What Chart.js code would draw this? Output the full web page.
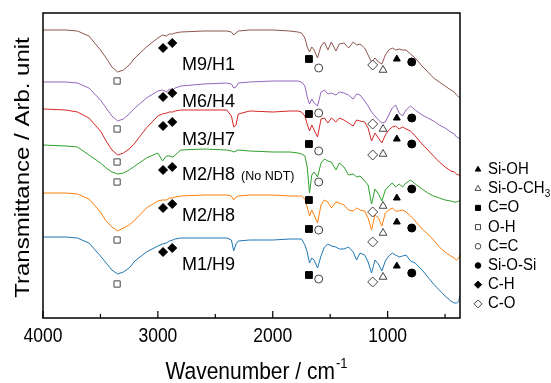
<!DOCTYPE html>
<html>
<head>
<meta charset="utf-8">
<script src="https://cdn.jsdelivr.net/npm/chart.js@4.4.0/dist/chart.umd.min.js"></script>
<style>
  html, body { margin: 0; padding: 0; background: #fff; }
  #wrap { width: 551px; height: 383px; }
</style>
</head>
<body>
<div id="wrap"><canvas id="ftir" width="551" height="383"></canvas></div>
<script>
// wavenumber grid shared by every spectrum (cm-1)
const wavenumbers = [
  4000, 3800, 3700, 3600, 3500, 3450, 3400, 3350, 3300, 3250,
  3200, 3100, 3000, 2960, 2925, 2900, 2870, 2850, 2800, 2600,
  2400, 2360, 2340, 2320, 2300, 2200, 2000, 1850, 1780, 1750,
  1720, 1700, 1680, 1660, 1640, 1610, 1580, 1550, 1520, 1490,
  1450, 1420, 1380, 1340, 1300, 1270, 1240, 1200, 1170, 1140,
  1110, 1080, 1050, 1020, 990, 960, 930, 900, 870, 840,
  800, 760, 700, 650, 600, 550, 500, 450, 420, 400, 380, 370
];

// transmittance, arb. unit (spectra stacked with offsets)
const m9h1 = [
  288, 288, 287, 282, 268, 260, 251, 246, 248, 253,
  260, 271, 280, 283, 282, 284, 284, 285, 286, 287,
  287, 286, 283, 285, 287, 288, 288, 287, 286, 285,
  280, 271, 266, 271, 268, 260, 272, 276, 268, 276,
  267, 274, 275, 270, 276, 273, 274, 270, 263, 256,
  260, 256, 254, 263, 268, 270, 268, 269, 268, 268,
  264, 260, 252, 246, 240, 236, 232, 228, 226, 223, 221, 220
];
const m6h4 = [
  236, 236, 235, 230, 218, 210, 202, 197, 199, 204,
  210, 220, 227, 228, 226, 229, 228, 230, 232, 234,
  235, 234, 230, 231, 235, 236, 237, 237, 237, 236,
  232, 221, 214, 219, 215, 212, 226, 228, 224, 225,
  223, 226, 225, 223, 219, 224, 223, 217, 212, 206,
  202, 198, 195, 196, 203, 210, 213, 205, 202, 208,
  212, 208, 203, 200, 197, 193, 190, 186, 184, 181, 180, 179
];
const m3h7 = [
  209, 208, 206, 200, 187, 177, 168, 163, 165, 169,
  175, 190, 202, 204, 205, 206, 206, 207, 208, 208,
  208, 202, 191, 193, 204, 207, 206, 207, 207, 206,
  202, 194, 187, 193, 188, 181, 199, 200, 195, 200,
  196, 200, 198, 195, 192, 198, 197, 196, 190, 177,
  185, 180, 175, 183, 188, 191, 192, 189, 191, 189,
  187, 182, 174, 168, 162, 156, 151, 147, 146, 144, 143, 142
];
const m2h8NoNdt = [
  173, 172, 171, 163, 155, 150, 146, 144, 145, 148,
  152, 160, 165, 157, 162, 162, 161, 163, 168, 169,
  168, 167, 166, 167, 168, 167, 166, 166, 165, 164,
  162, 151, 125, 143, 146, 141, 155, 159, 157, 156,
  148, 155, 151, 143, 144, 141, 142, 137, 133, 114,
  129, 124, 117, 128, 132, 135, 131, 134, 131, 135,
  138, 134, 129, 125, 122, 120, 118, 117, 116, 116, 117, 118
];
const m2h8 = [
  125, 125, 124, 119, 106, 97, 91, 87, 90, 93,
  98, 110, 117, 118, 118, 120, 120, 121, 122, 123,
  123, 122, 118, 121, 122, 123, 123, 122, 122, 122,
  119, 111, 102, 108, 103, 95, 113, 118, 116, 110,
  116, 115, 113, 108, 107, 110, 108, 107, 100, 88,
  103, 100, 92, 105, 108, 110, 107, 107, 108, 106,
  102, 97, 89, 84, 78, 71, 66, 62, 60, 58, 60, 64
];
const m1h9 = [
  81, 81, 80, 75, 62, 55, 48, 44, 46, 50,
  57, 66, 72, 74, 75, 77, 78, 79, 80, 80,
  80, 78, 67, 74, 77, 78, 78, 79, 79, 79,
  73, 66, 55, 60, 58, 50, 62, 71, 74, 72,
  71, 69, 69, 71, 66, 58, 65, 63, 56, 45,
  58, 54, 47, 57, 62, 65, 63, 61, 62, 63,
  57, 55, 48, 41, 34, 28, 22, 17, 15, 15, 17, 23
];

const sampleNames = ["M9/H1", "M6/H4", "M3/H7", "M2/H8", "M2/H8", "M1/H9"];
const sampleNotes = ["", "", "", "(No NDT)", "", ""];
const sampleLabelWn = 2790;
const sampleLabelLevels = [255, 218, 180, 145, 104, 55];

// band assignments: wavenumber of the mark and its level under each spectrum
const bandNames = ["Si-OH", "Si-O-CH3", "C=O", "O-H", "C=C", "Si-O-Si", "C-H", "C-O"];
const bandWavenumbers = [[920], [1040], [1685], [3355], [1600], [790], [2955, 2875], [1130]];
const siOhLevels = [259, 200, 179, 120, 96, 52];
const siOch3Levels = [248, 189, 164, 112, 85, 41];
const c_oLevels = [259, 204, 174, 118, 89, 43];
const ohLevels = [237, 189, 156, 136, 78, 34];
const ccLevels = [250, 205, 167, 136, 88, 39];
const siOSiLevels = [256, 200, 174, 129, 90, 45];
const chLevelsA = [270, 221, 192, 148, 110, 66];
const chLevelsB = [275, 225, 196, 151, 114, 70];
const coEtherLevels = [253, 194, 163, 106, 76, 36];
const bandLevels = [
  [siOhLevels], [siOch3Levels], [c_oLevels], [ohLevels],
  [ccLevels], [siOSiLevels], [chLevelsA, chLevelsB], [coEtherLevels]
];

const majorTicks = [4000, 3000, 2000, 1000];
const minorTicks = [3500, 2500, 1500, 500];

// styles
const FONT = '"Liberation Sans", Arial, Helvetica, sans-serif';
const lineColors = ["#8c564b", "#9467bd", "#d62728", "#2ca02c", "#ff7f0e", "#1f77b4"];
const bandStyles = [
  { pointStyle: "triangle", filled: true, r: 4, lr: 3.2 },
  { pointStyle: "triangle", filled: false, r: 4.5, lr: 3.4 },
  { pointStyle: "rect", filled: true, r: 4.8, lr: 3.6 },
  { pointStyle: "rect", filled: false, r: 4.4, lr: 3.6 },
  { pointStyle: "circle", filled: false, r: 4, lr: 2.8 },
  { pointStyle: "circle", filled: true, r: 4, lr: 2.8 },
  { pointStyle: "rectRot", filled: true, r: 4.5, lr: 3.6 },
  { pointStyle: "rectRot", filled: false, r: 5, lr: 4 }
];

const spectra = [m9h1, m6h4, m3h7, m2h8NoNdt, m2h8, m1h9];

const lineSets = spectra.map((vals, i) => ({
  label: sampleNames[i],
  data: vals.map((v, k) => ({ x: wavenumbers[k], y: v })),
  showLine: true,
  borderColor: lineColors[i],
  borderWidth: 1,
  pointRadius: 0,
  tension: 0
}));

const markSets = bandNames.map((name, b) => {
  const st = bandStyles[b];
  const pts = [];
  bandWavenumbers[b].forEach((wn, j) => {
    bandLevels[b][j].forEach(v => pts.push({ x: wn, y: v }));
  });
  return {
    label: name,
    isBand: true,
    data: pts,
    showLine: false,
    pointStyle: st.pointStyle,
    pointRadius: st.r,
    pointBackgroundColor: st.filled ? "#000" : "#fff",
    pointBorderColor: st.filled ? "#000" : "#444",
    pointBorderWidth: 1
  };
});

function stretchedText(ctx, text, x, y, sy) {
  ctx.save();
  ctx.translate(x, y);
  ctx.scale(1, sy);
  ctx.fillText(text, 0, 0);
  ctx.restore();
}

const decorations = {
  id: "decorations",
  afterDatasetsDraw(chart) {
    const { ctx, chartArea: a, scales: { x, y } } = chart;
    ctx.save();

    // frame and inward ticks on the bottom axis
    ctx.strokeStyle = "#000";
    ctx.lineWidth = 1.5;
    ctx.strokeRect(a.left, a.top, a.right - a.left, a.bottom - a.top);
    ctx.lineWidth = 1.2;
    const tick = (v, len) => {
      const px = x.getPixelForValue(v);
      ctx.beginPath();
      ctx.moveTo(px, a.bottom);
      ctx.lineTo(px, a.bottom - len);
      ctx.stroke();
    };
    majorTicks.forEach(v => tick(v, 7));
    minorTicks.forEach(v => tick(v, 4));

    ctx.fillStyle = "#000";
    ctx.textAlign = "center";
    ctx.textBaseline = "middle";
    ctx.font = "17.5px " + FONT;
    majorTicks.forEach(v => stretchedText(ctx, String(v), x.getPixelForValue(v), a.bottom + 18, 1.2));

    // x title with superscript
    const main = "Wavenumber / cm", sup = "-1";
    ctx.font = "21px " + FONT;
    const wMain = ctx.measureText(main).width;
    ctx.font = "13px " + FONT;
    const wSup = ctx.measureText(sup).width;
    const x0 = 256 - (wMain + wSup) / 2;
    ctx.save();
    ctx.translate(x0, a.bottom + 61);
    ctx.scale(1, 1.18);
    ctx.textAlign = "left";
    ctx.textBaseline = "alphabetic";
    ctx.font = "21px " + FONT;
    ctx.fillText(main, 0, 0);
    ctx.font = "13px " + FONT;
    ctx.fillText(sup, wMain + 1, -9);
    ctx.restore();

    // y title
    ctx.save();
    ctx.translate(a.left - 20, (a.top + a.bottom) / 2 + 2);
    ctx.rotate(-Math.PI / 2);
    ctx.scale(1.2, 1);
    ctx.textAlign = "center";
    ctx.textBaseline = "middle";
    ctx.font = "20px " + FONT;
    ctx.fillText("Transmittance / Arb. unit", 0, 0);
    ctx.restore();

    // sample labels
    ctx.textAlign = "left";
    ctx.textBaseline = "alphabetic";
    sampleNames.forEach((name, i) => {
      const px = x.getPixelForValue(sampleLabelWn);
      const py = y.getPixelForValue(sampleLabelLevels[i]) + 6.5;
      ctx.font = "18px " + FONT;
      ctx.fillText(name, px, py);
      if (sampleNotes[i]) {
        const w = ctx.measureText(name).width;
        ctx.font = "12.5px " + FONT;
        ctx.fillText(sampleNotes[i], px + w + 6, py);
      }
    });

    // band legend
    const lx = a.right + 18, ltx = a.right + 28;
    bandNames.forEach((name, b) => {
      const st = bandStyles[b];
      const ly = 169.5 + b * 19.2;
      ctx.fillStyle = st.filled ? "#000" : "#fff";
      ctx.strokeStyle = st.filled ? "#000" : "#444";
      ctx.lineWidth = 1;
      Chart.helpers.drawPoint(ctx, { pointStyle: st.pointStyle, radius: st.lr, borderWidth: 1, rotation: 0 }, lx, ly);
      ctx.fillStyle = "#000";
      ctx.textBaseline = "middle";
      const m = name.match(/^(.*?)(\d)$/);
      ctx.save();
      ctx.translate(ltx, ly);
      ctx.scale(1, 1.1);
      ctx.font = "15px " + FONT;
      if (m) {
        ctx.fillText(m[1], 0, 0);
        const w = ctx.measureText(m[1]).width;
        ctx.font = "10px " + FONT;
        ctx.fillText(m[2], w, 5);
      } else {
        ctx.fillText(name, 0, 0);
      }
      ctx.restore();
    });

    ctx.restore();
  }
};

new Chart(document.getElementById("ftir"), {
  type: "scatter",
  data: { datasets: [...markSets, ...lineSets] },
  options: {
    responsive: false,
    devicePixelRatio: 1,
    animation: false,
    events: [],
    layout: { padding: { left: 43, right: 91, top: 13, bottom: 65 } },
    plugins: { legend: { display: false }, tooltip: { enabled: false }, title: { display: false } },
    scales: {
      x: { type: "linear", reverse: true, min: 370, max: 4000, display: false },
      y: { type: "linear", min: 0, max: 305, display: false }
    }
  },
  plugins: [decorations]
});
</script>
</body>
</html>
